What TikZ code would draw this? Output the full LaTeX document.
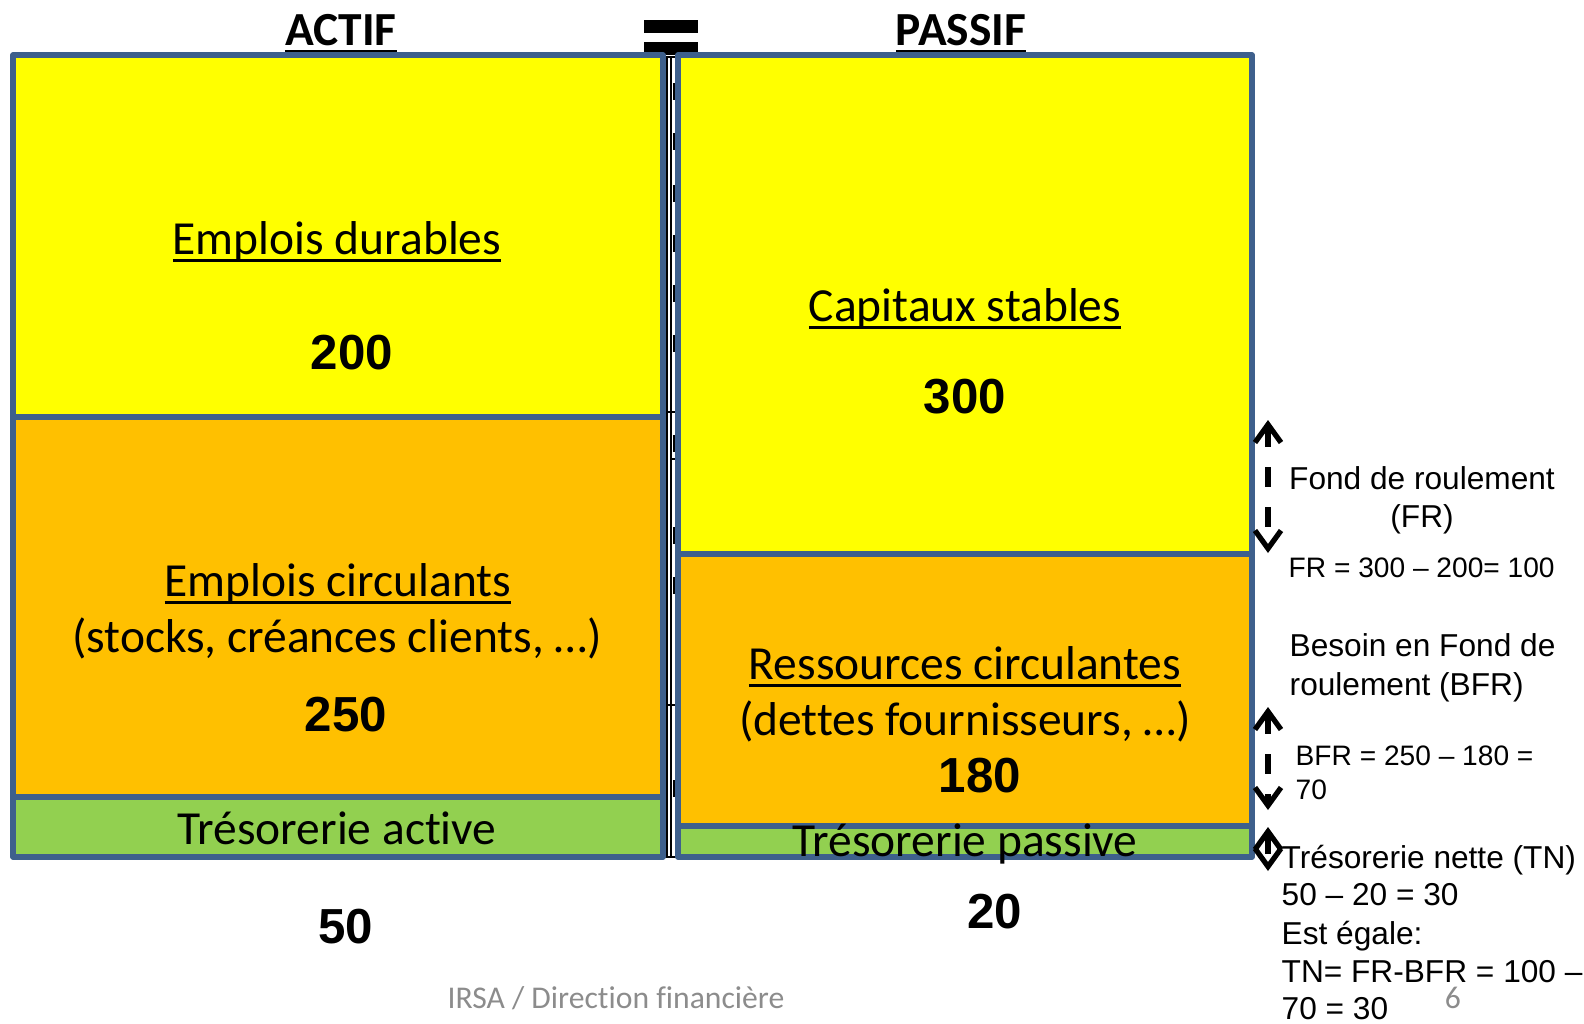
\documentclass[tikz,border=0pt]{standalone}
\usepackage{fontspec}
\setmainfont[Ligatures={NoCommon}]{Carlito}
\newfontfamily\arialfont{Liberation Sans}
\usetikzlibrary{arrows.meta}
\definecolor{boxblue}{RGB}{62,96,140}
\definecolor{durable}{RGB}{255,255,0}
\definecolor{circulant}{RGB}{255,192,0}
\definecolor{treso}{RGB}{146,208,80}
\definecolor{footgray}{RGB}{140,140,140}
\newcommand{\ulbox}[1]{\leavevmode\setbox0=\hbox{#1}\rlap{\rule[-0.17em]{\wd0}{0.065em}}\box0}
\begin{document}
\begin{tikzpicture}[x=0.01cm, y=-0.01cm, >={Straight Barb[length=1.8mm,width=2.6mm]},
	every node/.style={inner sep=0pt},
	box/.style={draw=boxblue, line width=1.45pt, line join=round},
	lbl/.style={anchor=base, font=\fontsize{13.5}{16}\selectfont},
	head/.style={anchor=base, font=\bfseries\fontsize{13.5}{16}\selectfont},
	num/.style={font=\arialfont\bfseries\fontsize{14}{16}\selectfont},
	note/.style={anchor=base west, font=\arialfont\fontsize{9}{11}\selectfont},
	small/.style={anchor=base west, font=\arialfont\fontsize{8}{10}\selectfont},
	dim/.style={<->, line width=1.5pt, dash pattern=on 2mm off 2mm}]
	\useasboundingbox (0,0) rectangle (1584,1023);
	%Titles
	\node [head] (actif) at (341,45) {\ulbox{ACTIF}};
	\node [head] (passif) at (961,45) {\ulbox{PASSIF}};
	\fill (644,20) rectangle (698,33);
	\fill (644,42) rectangle (698,55);
	%Separator
	\draw[line width=0.6pt] (667,57) -- (667,857);
	\draw[line width=0.6pt] (671,57) -- (671,857);
	\foreach \y in {57,412,705,857} \draw[line width=0.6pt] (665,\y) -- (677,\y);
	\draw[line width=0.6pt] (670,459) -- (677,459);
	\foreach \y in {83,133,185,235,285,335,435,527,577,780} \draw[line width=0.8pt] (674,\y) -- (674,\y+17);
	%Actif
	\draw[box, fill=durable] (13,55) rectangle (663,417);
	\draw[box, fill=circulant] (13,417) rectangle (663,797);
	\draw[box, fill=treso] (13,797) rectangle (663,857);
	\node [lbl] (ed) at (337,254) {\ulbox{Emplois durables}};
	\node [num] (ed val) at (352,353) {200};
	\node [lbl] (ec) at (338,596) {\ulbox{Emplois circulants}};
	\node [lbl] (ec det) at (337,652) {(stocks, créances clients, …)};
	\node [num] (ec val) at (346,715) {250};
	\node [lbl] (ta) at (337,844) {Trésorerie active};
	\node [num] (ta val) at (346,927) {50};
	%Passif
	\draw[box, fill=durable] (678,55) rectangle (1252,554);
	\draw[box, fill=circulant] (678,554) rectangle (1252,826);
	\draw[box, fill=treso] (678,826) rectangle (1252,857);
	\node [lbl] (cs) at (965,321) {\ulbox{Capitaux stables}};
	\node [num] (cs val) at (965,397) {300};
	\node [lbl] (rc) at (965,679) {\ulbox{Ressources circulantes}};
	\node [lbl] (rc det) at (965,735) {(dettes fournisseurs, …)};
	\node [num] (rc val) at (980,776) {180};
	\node [lbl] (tp) at (965,856) {Trésorerie passive};
	\node [num] (tp val) at (995,912) {20};
	%FR
	\coordinate (fr top) at (1268,420);
	\coordinate (fr bot) at (1268,553);
	\draw[dim] (fr top) -- (fr bot);
	\node [note, anchor=base] (fr) at (1422,489) {Fond de roulement};
	\node [note, anchor=base] (fr abbr) at (1422,527) {(FR)};
	\node [small] (fr calc) at (1288,577) {FR = 300 – 200= 100};
	%BFR
	\node [note] (bfr) at (1289,656) {Besoin en Fond de};
	\node [note] (bfr abbr) at (1289,695) {roulement (BFR)};
	\coordinate (bfr top) at (1268,707);
	\coordinate (bfr bot) at (1268,810);
	\draw[dim] (bfr top) -- (bfr bot);
	\node [small] (bfr calc) at (1295,765) {BFR = 250 – 180 =};
	\node [small] (bfr res) at (1295,799) {70};
	%TN
	\coordinate (tn top) at (1268,827);
	\coordinate (tn bot) at (1268,871);
	\draw[dim] (tn top) -- (tn bot);
	\node [note] (tn) at (1281,868) {Trésorerie nette (TN)};
	\node [note] (tn calc) at (1281,905) {50 – 20 = 30};
	\node [note] (tn eq) at (1281,944) {Est égale:};
	\node [note] (tn form) at (1281,982) {TN= FR-BFR = 100 –};
	\node [note] (tn res) at (1281,1019) {70 = 30};
	%Footer
	\node [anchor=base, font=\fontsize{9}{11}\selectfont, text=footgray] (footer) at (616,1008) {IRSA / Direction financière};
	\node [anchor=base, font=\fontsize{9}{11}\selectfont, text=footgray] (page) at (1453,1008) {6};
\end{tikzpicture}
\end{document}
